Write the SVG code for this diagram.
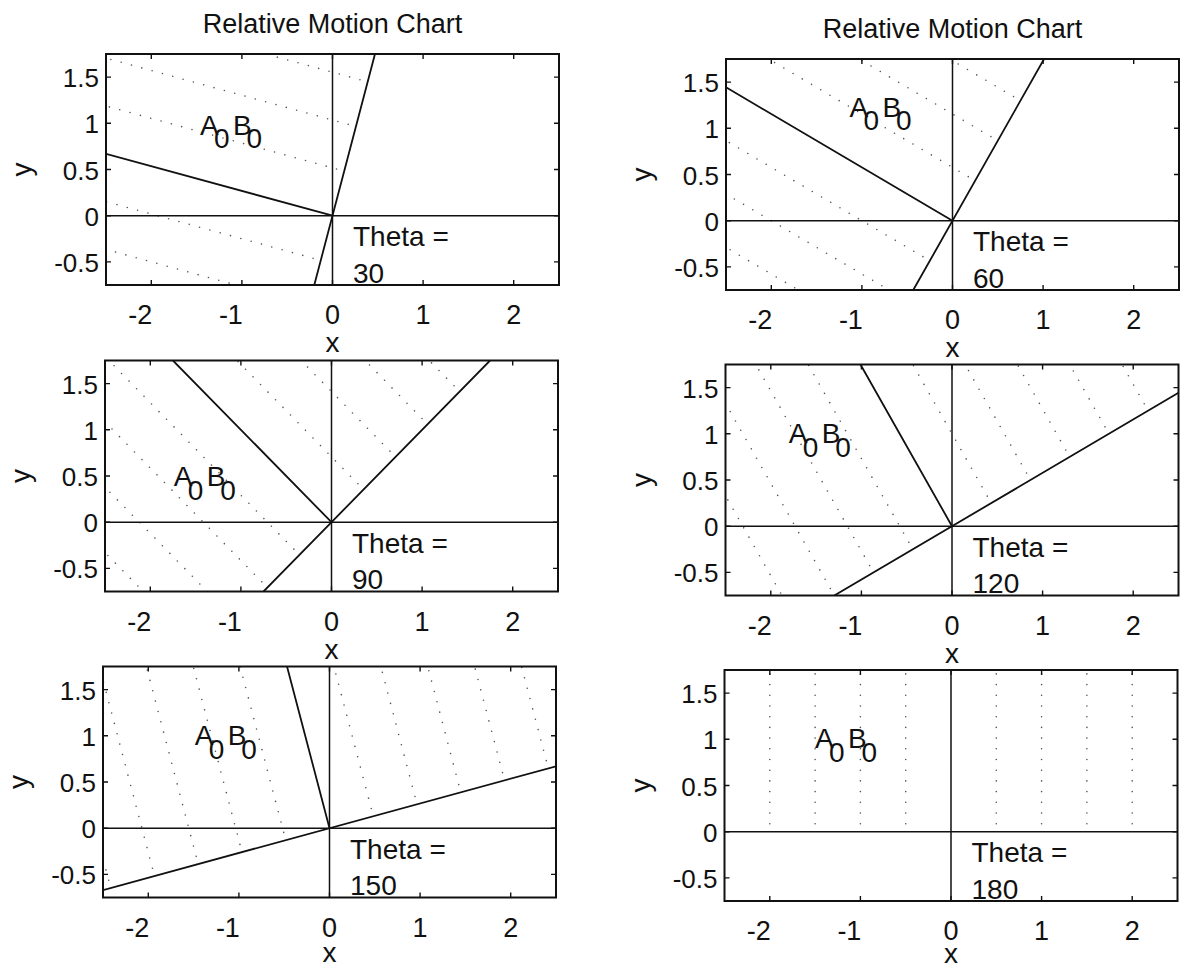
<svg xmlns="http://www.w3.org/2000/svg" xmlns:xlink="http://www.w3.org/1999/xlink" width="1186" height="970" viewBox="0 0 1186 970">
<style>
text{font-family:"Liberation Sans",Arial,Helvetica,sans-serif;fill:#111}
.tl{font-size:27px}
.tly{font-size:26px;text-anchor:end}
.lab{font-size:28px}
.ttl{font-size:27px;text-anchor:middle}
.ax{font-size:28px;text-anchor:middle}
.box{fill:none;stroke:#111;stroke-width:2}
.axis{fill:none;stroke:#111;stroke-width:1.5}
.solid{fill:none;stroke:#111;stroke-width:1.8}
.tick{fill:none;stroke:#111;stroke-width:1.4}
.dot{fill:none;stroke:#555;stroke-width:1.6;stroke-linecap:round;stroke-dasharray:0 10.7;stroke-dashoffset:-8}
</style>
<defs>
<clipPath id="clip"><rect x="0" y="0" width="453" height="231"/></clipPath>
<path id="ticks" class="tick" d="M45.3 231v-5M135.9 231v-5M226.5 231v-5M317.1 231v-5M407.7 231v-5M45.3 0v5M135.9 0v5M226.5 0v5M317.1 0v5M407.7 0v5M0 207.9h5M0 161.7h5M0 115.5h5M0 69.3h5M0 23.1h5M453 207.9h-5M453 161.7h-5M453 115.5h-5M453 69.3h-5M453 23.1h-5"/>
</defs>
<rect width="1186" height="970" fill="#fff"/>

<!-- Panel theta = 30 -->
<g id="panel-theta30" transform="translate(106,54)">
<text class="ttl" x="226.5" y="-21">Relative Motion Chart</text>
<g id="lines-theta30" clip-path="url(#clip)">
<path class="dot" d="M261.66 27.81L-263.4 -115.7M249.94 72.44L-275.2 -71.1M238.22 117.07L-286.9 -26.4M214.78 206.33L-310.3 62.8M203.06 250.96L-322 107.5"/>
<path class="axis" d="M0 161.7H453M226.5 0V231"/>
<path class="solid" d="M208.29 231L268.98 0M226.5 161.7L0 99.8"/>
</g>
<rect class="box" x="0" y="0" width="453" height="231"/>
<use xlink:href="#ticks"/>
<text class="tl" x="46.3" y="270" text-anchor="end">-2</text>
<text class="tl" x="136.9" y="270" text-anchor="end">-1</text>
<text class="tl" x="226.5" y="270" text-anchor="middle">0</text>
<text class="tl" x="317.1" y="270" text-anchor="middle">1</text>
<text class="tl" x="407.7" y="270" text-anchor="middle">2</text>
<text class="tly" x="-7" y="33.1">1.5</text>
<text class="tly" x="-7" y="79.3">1</text>
<text class="tly" x="-7" y="125.5">0.5</text>
<text class="tly" x="-7" y="171.7">0</text>
<text class="tly" x="-7" y="217.9">-0.5</text>
<text class="ax" x="226.5" y="298">x</text>
<text class="ax" transform="translate(-75,115.5) rotate(-90)">y</text>
<text class="lab" x="94" y="80.5">A</text><text class="lab" x="108" y="94">0</text><text class="lab" x="127" y="80.5">B</text><text class="lab" x="140.5" y="94">0</text>
<text class="lab" x="247" y="192">Theta =</text>
<text class="lab" x="247" y="228.5">30</text>
</g>

<!-- Panel theta = 60 -->
<g id="panel-theta60" transform="translate(726,59)">
<text class="ttl" x="226.5" y="-21">Relative Motion Chart</text>
<g id="lines-theta60" clip-path="url(#clip)">
<path class="dot" d="M294.45 41.67L-176.35 -235.53M271.8 81.68L-199 -195.52M249.15 121.69L-221.65 -155.51M203.85 201.71L-266.95 -75.49M181.2 241.72L-289.6 -35.48M158.55 281.73L-312.25 4.53"/>
<path class="axis" d="M0 161.7H453M226.5 0V231"/>
<path class="solid" d="M187.27 231L318.04 0M226.5 161.7L0 28.33"/>
</g>
<rect class="box" x="0" y="0" width="453" height="231"/>
<use xlink:href="#ticks"/>
<text class="tl" x="46.3" y="270" text-anchor="end">-2</text>
<text class="tl" x="136.9" y="270" text-anchor="end">-1</text>
<text class="tl" x="226.5" y="270" text-anchor="middle">0</text>
<text class="tl" x="317.1" y="270" text-anchor="middle">1</text>
<text class="tl" x="407.7" y="270" text-anchor="middle">2</text>
<text class="tly" x="-7" y="33.1">1.5</text>
<text class="tly" x="-7" y="79.3">1</text>
<text class="tly" x="-7" y="125.5">0.5</text>
<text class="tly" x="-7" y="171.7">0</text>
<text class="tly" x="-7" y="217.9">-0.5</text>
<text class="ax" x="226.5" y="298">x</text>
<text class="ax" transform="translate(-75,115.5) rotate(-90)">y</text>
<text class="lab" x="123.6" y="57.7">A</text><text class="lab" x="137.6" y="71.2">0</text><text class="lab" x="156.6" y="57.7">B</text><text class="lab" x="170.1" y="71.2">0</text>
<text class="lab" x="247" y="192">Theta =</text>
<text class="lab" x="247" y="228.5">60</text>
</g>

<!-- Panel theta = 90 -->
<g id="panel-theta90" transform="translate(105,360.5)">
<g id="lines-theta90" clip-path="url(#clip)">
<path class="dot" d="M354.62 31.02L-29.78 -360.98M322.59 63.69L-61.81 -328.31M290.56 96.36L-93.84 -295.64M258.53 129.03L-125.87 -262.97M194.47 194.37L-189.93 -197.63M162.44 227.04L-221.96 -164.96M130.41 259.71L-253.99 -132.29M98.38 292.38L-286.02 -99.62"/>
<path class="axis" d="M0 161.7H453M226.5 0V231"/>
<path class="solid" d="M158.55 231L385.05 0M226.5 161.7L67.95 0"/>
</g>
<rect class="box" x="0" y="0" width="453" height="231"/>
<use xlink:href="#ticks"/>
<text class="tl" x="46.3" y="270" text-anchor="end">-2</text>
<text class="tl" x="136.9" y="270" text-anchor="end">-1</text>
<text class="tl" x="226.5" y="270" text-anchor="middle">0</text>
<text class="tl" x="317.1" y="270" text-anchor="middle">1</text>
<text class="tl" x="407.7" y="270" text-anchor="middle">2</text>
<text class="tly" x="-7" y="33.1">1.5</text>
<text class="tly" x="-7" y="79.3">1</text>
<text class="tly" x="-7" y="125.5">0.5</text>
<text class="tly" x="-7" y="171.7">0</text>
<text class="tly" x="-7" y="217.9">-0.5</text>
<text class="ax" x="226.5" y="298">x</text>
<text class="ax" transform="translate(-75,115.5) rotate(-90)">y</text>
<text class="lab" x="68.7" y="125.5">A</text><text class="lab" x="82.7" y="139">0</text><text class="lab" x="101.7" y="125.5">B</text><text class="lab" x="115.2" y="139">0</text>
<text class="lab" x="247" y="192">Theta =</text>
<text class="lab" x="247" y="228.5">90</text>
</g>

<!-- Panel theta = 120 -->
<g id="panel-theta120" transform="translate(725.5,364.5)">
<g id="lines-theta120" clip-path="url(#clip)">
<path class="dot" d="M422.65 46.2L150.85 -433.9M383.42 69.3L111.62 -410.8M344.19 92.4L72.39 -387.7M304.96 115.5L33.16 -364.6M265.73 138.6L-6.07 -341.5M187.27 184.8L-84.53 -295.3M148.04 207.9L-123.76 -272.2M108.81 231L-162.99 -249.1M69.58 254.1L-202.22 -226"/>
<path class="axis" d="M0 161.7H453M226.5 0V231"/>
<path class="solid" d="M108.81 231L453 28.33M226.5 161.7L134.96 0"/>
</g>
<rect class="box" x="0" y="0" width="453" height="231"/>
<use xlink:href="#ticks"/>
<text class="tl" x="46.3" y="270" text-anchor="end">-2</text>
<text class="tl" x="136.9" y="270" text-anchor="end">-1</text>
<text class="tl" x="226.5" y="270" text-anchor="middle">0</text>
<text class="tl" x="317.1" y="270" text-anchor="middle">1</text>
<text class="tl" x="407.7" y="270" text-anchor="middle">2</text>
<text class="tly" x="-7" y="33.1">1.5</text>
<text class="tly" x="-7" y="79.3">1</text>
<text class="tly" x="-7" y="125.5">0.5</text>
<text class="tly" x="-7" y="171.7">0</text>
<text class="tly" x="-7" y="217.9">-0.5</text>
<text class="ax" x="226.5" y="298">x</text>
<text class="ax" transform="translate(-75,115.5) rotate(-90)">y</text>
<text class="lab" x="63.2" y="78.8">A</text><text class="lab" x="77.2" y="92.3">0</text><text class="lab" x="96.2" y="78.8">B</text><text class="lab" x="109.7" y="92.3">0</text>
<text class="lab" x="247" y="192">Theta =</text>
<text class="lab" x="247" y="228.5">120</text>
</g>

<!-- Panel theta = 150 -->
<g id="panel-theta150" transform="translate(103,666.5)">
<g id="lines-theta150" clip-path="url(#clip)">
<path class="dot" d="M445.3 101.9L304.6 -433.6M401.54 113.86L260.84 -421.64M357.78 125.82L217.08 -409.68M314.02 137.78L173.32 -397.72M270.26 149.74L129.56 -385.76M182.74 173.66L42.04 -361.84M138.98 185.62L-1.72 -349.88M95.22 197.58L-45.48 -337.92M51.46 209.54L-89.24 -325.96M7.7 221.5L-133 -314"/>
<path class="axis" d="M0 161.7H453M226.5 0V231"/>
<path class="solid" d="M0 223.6L453 99.8M226.5 161.7L184.02 0"/>
</g>
<rect class="box" x="0" y="0" width="453" height="231"/>
<use xlink:href="#ticks"/>
<text class="tl" x="46.3" y="270" text-anchor="end">-2</text>
<text class="tl" x="136.9" y="270" text-anchor="end">-1</text>
<text class="tl" x="226.5" y="270" text-anchor="middle">0</text>
<text class="tl" x="317.1" y="270" text-anchor="middle">1</text>
<text class="tl" x="407.7" y="270" text-anchor="middle">2</text>
<text class="tly" x="-7" y="33.1">1.5</text>
<text class="tly" x="-7" y="79.3">1</text>
<text class="tly" x="-7" y="125.5">0.5</text>
<text class="tly" x="-7" y="171.7">0</text>
<text class="tly" x="-7" y="217.9">-0.5</text>
<text class="ax" x="226.5" y="295">x</text>
<text class="ax" transform="translate(-75,115.5) rotate(-90)">y</text>
<text class="lab" x="91.7" y="78.5">A</text><text class="lab" x="105.7" y="92">0</text><text class="lab" x="124.7" y="78.5">B</text><text class="lab" x="138.2" y="92">0</text>
<text class="lab" x="247" y="192">Theta =</text>
<text class="lab" x="247" y="228.5">150</text>
</g>

<!-- Panel theta = 180 -->
<g id="panel-theta180" transform="translate(724.5,670)">
<g id="lines-theta180" clip-path="url(#clip)">
<path class="dot" d="M45.3 161.7V0M90.6 161.7V0M135.9 161.7V0M181.2 161.7V0M271.8 161.7V0M317.1 161.7V0M362.4 161.7V0M407.7 161.7V0"/>
<path class="axis" d="M0 161.7H453M226.5 0V231"/>
</g>
<rect class="box" x="0" y="0" width="453" height="231"/>
<use xlink:href="#ticks"/>
<text class="tl" x="46.3" y="270" text-anchor="end">-2</text>
<text class="tl" x="136.9" y="270" text-anchor="end">-1</text>
<text class="tl" x="226.5" y="270" text-anchor="middle">0</text>
<text class="tl" x="317.1" y="270" text-anchor="middle">1</text>
<text class="tl" x="407.7" y="270" text-anchor="middle">2</text>
<text class="tly" x="-7" y="33.1">1.5</text>
<text class="tly" x="-7" y="79.3">1</text>
<text class="tly" x="-7" y="125.5">0.5</text>
<text class="tly" x="-7" y="171.7">0</text>
<text class="tly" x="-7" y="217.9">-0.5</text>
<text class="ax" x="226.5" y="293">x</text>
<text class="ax" transform="translate(-75,115.5) rotate(-90)">y</text>
<text class="lab" x="90.4" y="78.3">A</text><text class="lab" x="104.4" y="91.8">0</text><text class="lab" x="123.4" y="78.3">B</text><text class="lab" x="136.9" y="91.8">0</text>
<text class="lab" x="247" y="192">Theta =</text>
<text class="lab" x="247" y="228.5">180</text>
</g>
</svg>
